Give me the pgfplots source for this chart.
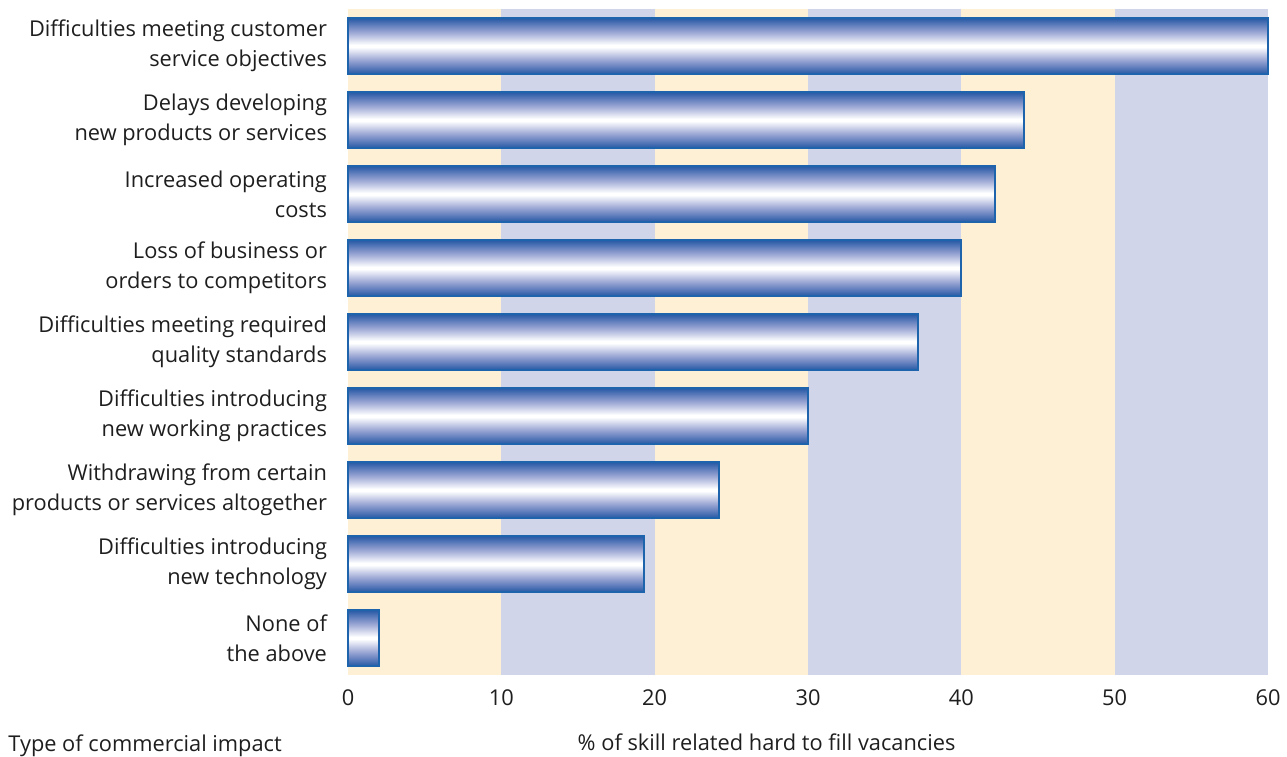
\documentclass[border=0pt]{standalone}
\usepackage{fontspec}
\setmainfont{Open Sans}
\usepackage{pgfplots}
\pgfplotsset{compat=1.18}

\definecolor{bandcream}{RGB}{253,240,213}
\definecolor{bandlav}{RGB}{208,213,233}
\definecolor{bardark}{RGB}{38,88,165}
\definecolor{barmid}{RGB}{150,162,210}
\definecolor{baredge}{RGB}{30,100,172}
\definecolor{labeltext}{RGB}{30,30,30}

% tube-like vertical shading; the path box maps onto 25bp..75bp
\pgfdeclareverticalshading{tube}{100bp}{%
  color(0bp)=(bardark); color(25bp)=(bardark); color(37bp)=(barmid);
  color(49bp)=(white); color(51bp)=(white); color(63bp)=(barmid);
  color(75bp)=(bardark); color(100bp)=(bardark)}

\tikzset{tubebar/.style={draw=baredge, line width=1pt, shading=tube}}

\begin{document}
\begin{tikzpicture}[font=\fontsize{10.9}{15}\selectfont\color{labeltext}]
\begin{axis}[
  scale only axis,
  width=460pt, height=333pt,
  xbar, bar width=28pt, bar shift=0pt,
  xmin=0, xmax=60,
  ymin=-0.5, ymax=8.5,
  y dir=reverse,
  axis line style={draw=none},
  major tick length=0pt,
  xtick={0,10,...,60},
  ytick={0,...,8},
  yticklabels={
    {Difficulties meeting customer\\service objectives},
    {Delays developing\\new products or services},
    {Increased operating\\costs},
    {Loss of business or\\orders to competitors},
    {Difficulties meeting required\\quality standards},
    {Difficulties introducing\\new working practices},
    {Withdrawing from certain\\products or services altogether},
    {Difficulties introducing\\new technology},
    {None of\\the above}},
  yticklabel style={align=right, xshift=-7pt},
  xticklabel style={yshift=-4pt},
  /pgf/number format/assume math mode=true,
  xlabel={\% of skill related hard to fill vacancies},
  xlabel style={at={(axis description cs:0.455,0)}, anchor=north, yshift=-26pt},
  clip=false,
]
% alternating background bands
\fill[bandcream] (axis cs:0,-0.5)  rectangle (axis cs:10,8.5);
\fill[bandlav]   (axis cs:10,-0.5) rectangle (axis cs:20,8.5);
\fill[bandcream] (axis cs:20,-0.5) rectangle (axis cs:30,8.5);
\fill[bandlav]   (axis cs:30,-0.5) rectangle (axis cs:40,8.5);
\fill[bandcream] (axis cs:40,-0.5) rectangle (axis cs:50,8.5);
\fill[bandlav]   (axis cs:50,-0.5) rectangle (axis cs:60,8.5);

% one plot per bar so each bar gets its own shading
\addplot[tubebar] coordinates {(60.0,0)};
\addplot[tubebar] coordinates {(44.1,1)};
\addplot[tubebar] coordinates {(42.2,2)};
\addplot[tubebar] coordinates {(40.0,3)};
\addplot[tubebar] coordinates {(37.2,4)};
\addplot[tubebar] coordinates {(30.0,5)};
\addplot[tubebar] coordinates {(24.2,6)};
\addplot[tubebar] coordinates {(19.3,7)};
\addplot[tubebar] coordinates {(2.0,8)};

\node[anchor=north west, inner sep=0pt] at ([xshift=-170pt, yshift=-29.5pt]rel axis cs:0,0)
  {Type of commercial impact};
\end{axis}
\pgfresetboundingbox
\path ([xshift=-174pt, yshift=-41pt]current axis.south west)
  rectangle ([xshift=9.5pt, yshift=4.5pt]current axis.north east);
\end{tikzpicture}
\end{document}
